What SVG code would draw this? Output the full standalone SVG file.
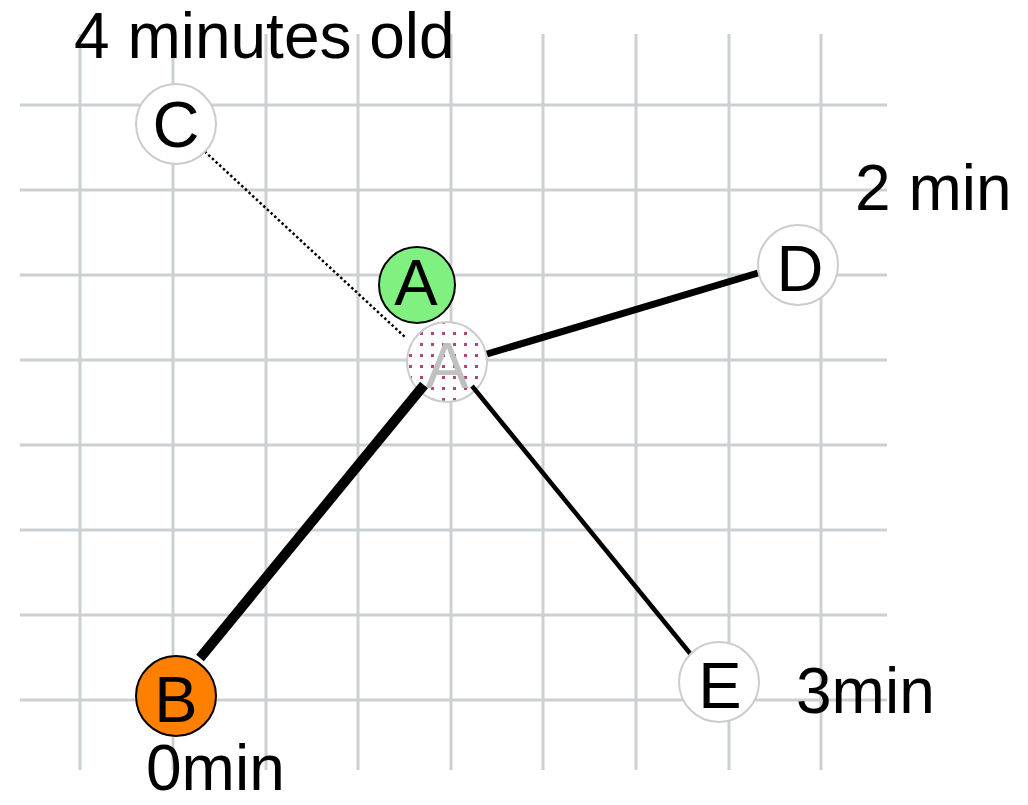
<svg xmlns="http://www.w3.org/2000/svg" width="1028" height="805" viewBox="0 0 1028 805">
<style>
.grid line{stroke:#cbd0d3;stroke-width:3}
.node circle{stroke-width:2}
.plain{fill:#fff;stroke:#cccccc}
.lbl{font-family:"Liberation Sans",Arial,sans-serif;font-size:64px;fill:#000}
.nl{font-family:"Liberation Sans",Arial,sans-serif;font-size:65px;text-anchor:middle;fill:#000}
.edge{stroke:#000;fill:none}
</style>
<defs>
<pattern id="dots" width="11" height="11" patternUnits="userSpaceOnUse" x="2" y="2">
<rect x="0" y="0" width="3" height="3" fill="#b0457a"/>
</pattern>
</defs>
<rect width="1028" height="805" fill="#fff"/>
<g class="grid">
<line x1="80" y1="34" x2="80" y2="770"/>
<line x1="173" y1="34" x2="173" y2="770"/>
<line x1="266" y1="34" x2="266" y2="770"/>
<line x1="358" y1="34" x2="358" y2="770"/>
<line x1="451" y1="34" x2="451" y2="770"/>
<line x1="543" y1="34" x2="543" y2="770"/>
<line x1="636" y1="34" x2="636" y2="770"/>
<line x1="729" y1="34" x2="729" y2="770"/>
<line x1="821" y1="34" x2="821" y2="770"/>
<line x1="20" y1="105" x2="887" y2="105"/>
<line x1="20" y1="190" x2="887" y2="190"/>
<line x1="20" y1="275" x2="887" y2="275"/>
<line x1="20" y1="360" x2="887" y2="360"/>
<line x1="20" y1="445" x2="887" y2="445"/>
<line x1="20" y1="530" x2="887" y2="530"/>
<line x1="20" y1="615" x2="887" y2="615"/>
<line x1="20" y1="700" x2="887" y2="700"/>
</g>
<g id="node-A-old" class="node">
<circle cx="447" cy="362" r="40" fill="#fff" stroke="#cccccc"/>
<circle cx="447" cy="362" r="39" fill="url(#dots)" stroke="none"/>
<text class="nl" x="447" y="388" style="fill:#c0c0c0">A</text>
</g>
<g id="connectors">
<line class="edge" x1="201" y1="148" x2="406" y2="338" stroke-width="2.5" stroke-dasharray="2.5 2.5"/>
<line class="edge" x1="487" y1="354" x2="758" y2="273" stroke-width="7"/>
<line class="edge" x1="200" y1="658" x2="424" y2="385" stroke-width="10"/>
<line class="edge" x1="472" y1="386" x2="693" y2="657" stroke-width="4.5"/>
</g>
<g id="node-C" class="node">
<circle class="plain" cx="176" cy="124" r="40"/>
<text class="nl" x="176" y="147">C</text>
</g>
<g id="node-A" class="node">
<circle cx="417" cy="285" r="38" fill="#80f080" stroke="#000"/>
<text class="nl" x="416" y="305">A</text>
</g>
<g id="node-D" class="node">
<circle class="plain" cx="798" cy="265" r="40"/>
<text class="nl" x="800" y="291">D</text>
</g>
<g id="node-E" class="node">
<circle class="plain" cx="719" cy="682" r="40"/>
<text class="nl" x="720" y="708">E</text>
</g>
<g id="node-B" class="node">
<circle cx="176" cy="696" r="40" fill="#ff8000" stroke="#000"/>
<text class="nl" x="176" y="722">B</text>
</g>
<g id="labels">
<text class="lbl" x="74" y="58">4 minutes old</text>
<text class="lbl" x="855" y="210">2 min</text>
<text class="lbl" x="796" y="713">3min</text>
<text class="lbl" x="146" y="790">0min</text>
</g>
</svg>
